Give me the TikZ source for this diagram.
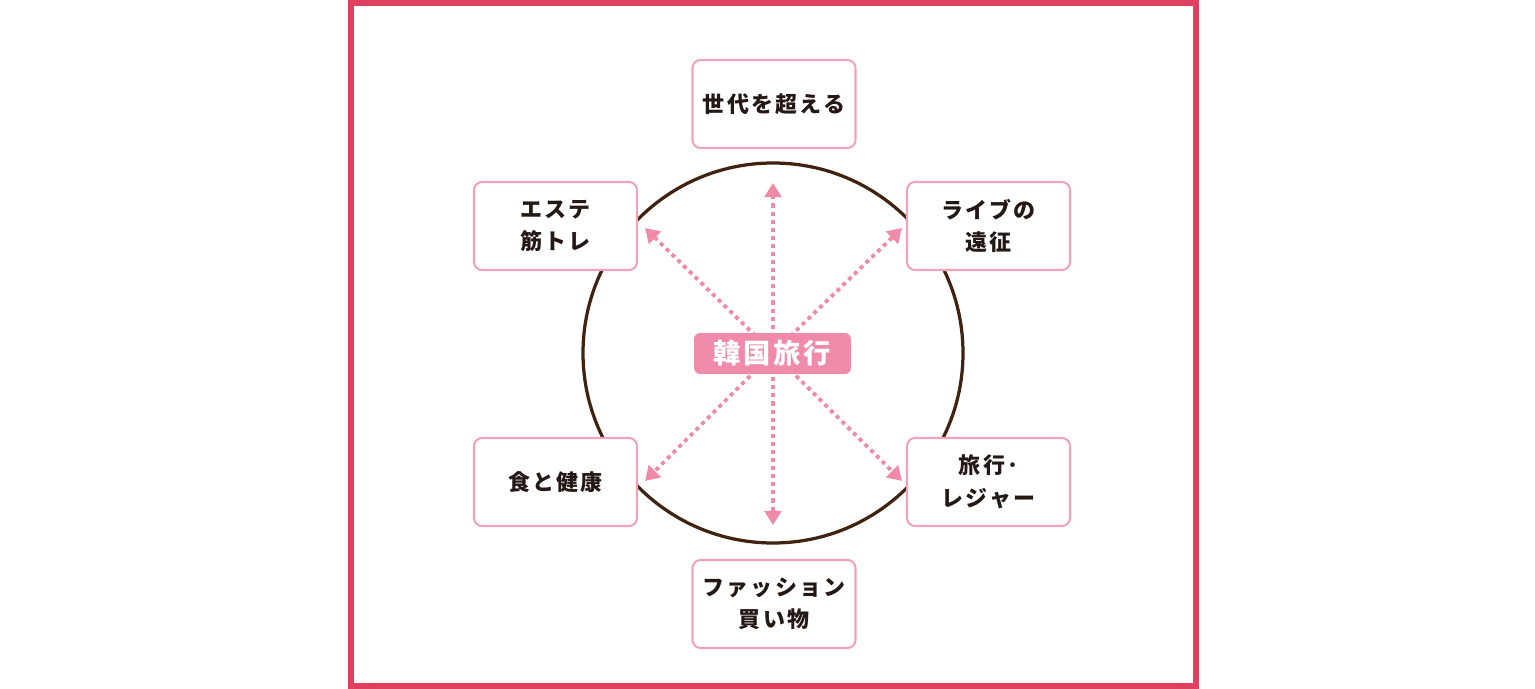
\documentclass[tikz,border=0pt]{standalone}
\usepackage{fontspec}
\usepackage{xcolor}
\usetikzlibrary{arrows.meta, positioning}
\newfontfamily\jpfont[LetterSpace=10]{Noto Sans CJK JP}
\definecolor{FrameRed}{HTML}{E0405F}
\definecolor{BoxPink}{HTML}{F2A2BA}
\definecolor{ArrowPink}{HTML}{EF8AA8}
\definecolor{RingBrown}{HTML}{402211}
\definecolor{TextDark}{HTML}{231815}

\begin{document}
\begin{tikzpicture}[
  x=0.02cm, y=-0.02cm,
  topicbox/.style={draw=BoxPink, line width=1.2pt, rounded corners=4.5pt, fill=white, minimum width=3.26cm, minimum height=1.76cm, align=center, text=TextDark, font=\jpfont\bfseries\fontsize{12.5}{18.5}\selectfont},
  hubbox/.style={fill=ArrowPink, rounded corners=3.5pt, minimum width=3.14cm, minimum height=0.82cm, text=white, font=\jpfont\bfseries\fontsize{15.5}{18}\selectfont},
  link/.style={draw=ArrowPink, line width=2.2pt, dash pattern=on 2.3pt off 2.3pt, -{Triangle[width=9.5pt,length=8pt]}},
  ring/.style={draw=RingBrown, line width=1.85pt},
  frame/.style={draw=FrameRed, line width=3.4pt},
]
\useasboundingbox (0,0) rectangle (1535,689);

% --- outer frame ---
\draw[frame] (351,3) rectangle (1196,686);

% --- ring and arrows ---
\coordinate (hub) at (773,353);
\draw[ring] (hub) circle[radius=190];
\foreach \name/\px/\py in {up/773/183, down/773/525, ul/645/228, ur/902/228, ll/645/481, lr/902/481}
  \coordinate (\name) at (\px,\py);
\foreach \name in {up, down, ul, ur, ll, lr}
  \draw[link] (hub) -- (\name);

% --- centre label ---
\node[hubbox] (kankoku) at (772.5,353.5) {韓国旅行};

% --- six topics ---
\node[topicbox] (sedai) at (774,104) {世代を超える};
\node[topicbox] (esute) at (555.5,226) {エステ\\筋トレ};
\node[topicbox] (live) at (988.5,226) {ライブの\\遠征};
\node[topicbox] (shoku) at (555.5,482) {食と健康};
\node[topicbox] (ryoko) at (988.5,482) {旅行･\\レジャー};
\node[topicbox] (fashion) at (774,604) {ファッション\\買い物};

\end{tikzpicture}
\end{document}
